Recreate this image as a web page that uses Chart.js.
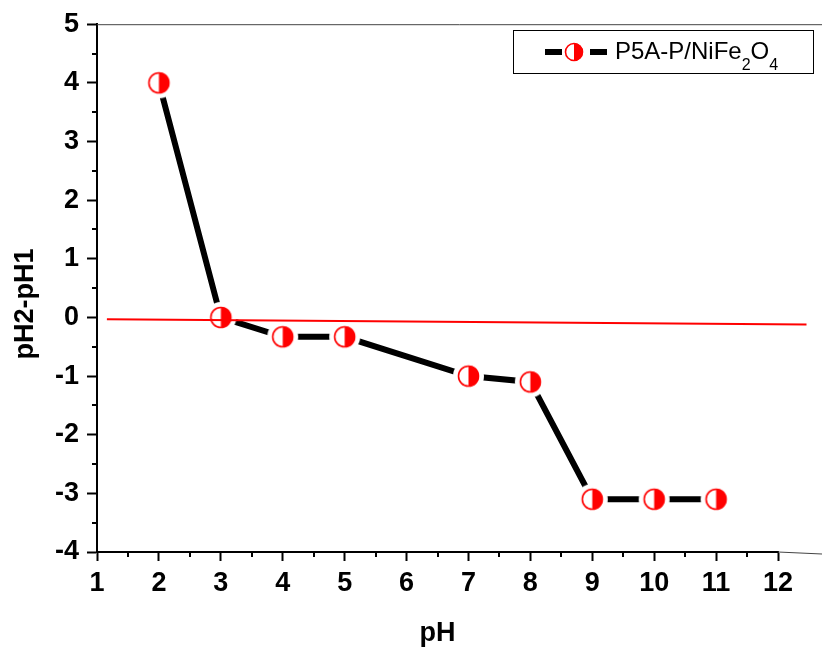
<!DOCTYPE html>
<html>
<head>
<meta charset="utf-8">
<script src="https://cdn.jsdelivr.net/npm/chart.js@4.4.1/dist/chart.umd.min.js"></script>
<style>
    html, body { margin: 0; padding: 0; background: #fff; }
    #wrap { width: 822px; height: 651px; }
</style>
</head>
<body>
<div id="wrap"><canvas id="phchart" width="822" height="651"></canvas></div>
<script>
// initial pH and the measured change pH2-pH1
const phValues = [2, 3, 4, 5, 7, 8, 9, 10, 11];
const deltaPH = [4, 0, -0.33, -0.33, -1.0, -1.1, -3.1, -3.1, -3.1];

// the red reference line near zero
const zeroLineX = [1.16, 12.46];
const zeroLineY = [-0.03, -0.12];

const seriesLabel = "P5A-P/NiFe2O4";
const yTitle = "pH2-pH1";
const fontFamily = "'Liberation Sans', Arial, sans-serif";

// half filled circle, with a white ring round it so the line stops short of it
function makeMarker(r, ring) {
    const size = (r + ring) * 2 + 2;
    const c = document.createElement("canvas");
    c.width = size;
    c.height = size;
    const ctx = c.getContext("2d");
    const m = size / 2;
    if (ring > 0) {
        ctx.fillStyle = "#fff";
        ctx.beginPath();
        ctx.arc(m, m, r + ring, 0, Math.PI * 2);
        ctx.fill();
    }
    ctx.fillStyle = "#fff";
    ctx.beginPath();
    ctx.arc(m, m, r, 0, Math.PI * 2);
    ctx.fill();
    ctx.fillStyle = "#ff0000";
    ctx.beginPath();
    ctx.arc(m, m, r, -Math.PI / 2, Math.PI / 2);
    ctx.closePath();
    ctx.fill();
    ctx.strokeStyle = "#ff0000";
    ctx.lineWidth = 1.6;
    ctx.beginPath();
    ctx.arc(m, m, r - 0.5, 0, Math.PI * 2);
    ctx.stroke();
    return c;
}

const marker = makeMarker(10.5, 5);
const legendMarker = makeMarker(9, 0);

// minor ticks, frame bits, y title and the legend box with subscripts
const extrasPlugin = {
    id: "extras",
    afterDraw(chart) {
        const ctx = chart.ctx;
        const xs = chart.scales.x;
        const ys = chart.scales.y;
        const area = chart.chartArea;
        ctx.save();
        ctx.strokeStyle = "#000";
        ctx.lineWidth = 2;
        ctx.beginPath();
        for (let v = xs.min + 0.5; v < xs.max; v += 1) {
            const px = Math.round(xs.getPixelForValue(v));
            ctx.moveTo(px, area.bottom);
            ctx.lineTo(px, area.bottom + 5);
        }
        for (let v = ys.min + 0.5; v < ys.max; v += 1) {
            const py = Math.round(ys.getPixelForValue(v));
            ctx.moveTo(area.left - 5, py);
            ctx.lineTo(area.left, py);
        }
        ctx.stroke();

        // thin top frame and the bottom line running out to the edge
        ctx.strokeStyle = "#444";
        ctx.lineWidth = 1;
        ctx.beginPath();
        ctx.moveTo(area.left, area.top + 0.5);
        ctx.lineTo(chart.width, area.top + 0.5);
        ctx.moveTo(area.right, area.bottom);
        ctx.lineTo(chart.width, area.bottom + 2);
        ctx.stroke();

        // y axis title, sits a little below the middle in the original
        ctx.save();
        ctx.translate(26, 304);
        ctx.rotate(-Math.PI / 2);
        ctx.font = "bold 27px " + fontFamily;
        ctx.fillStyle = "#000";
        ctx.textAlign = "center";
        ctx.textBaseline = "middle";
        ctx.fillText(yTitle, 0, 0);
        ctx.restore();

        // legend
        const bx = 513.5, by = 30.5, bw = 300, bh = 43;
        ctx.lineWidth = 1;
        ctx.strokeStyle = "#000";
        ctx.strokeRect(bx, by, bw, bh);
        const cy = 52;
        ctx.lineWidth = 6;
        ctx.beginPath();
        ctx.moveTo(545, cy);
        ctx.lineTo(562, cy);
        ctx.moveTo(590, cy);
        ctx.lineTo(607, cy);
        ctx.stroke();
        ctx.drawImage(legendMarker, 574 - legendMarker.width / 2, cy - legendMarker.height / 2);

        ctx.fillStyle = "#000";
        ctx.textBaseline = "alphabetic";
        let tx = 615;
        const parts = seriesLabel.match(/[A-Za-z\-\/]+|\d/g);
        // digits after "Fe" and "O" are subscripts
        let seen = "";
        for (const p of parts) {
            const isSub = /^\d$/.test(p) && /[a-zA-Z]$/.test(seen) && seen.indexOf("Ni") >= 0;
            ctx.font = isSub ? "16px " + fontFamily : "24px " + fontFamily;
            ctx.fillText(p, tx, isSub ? 70 : 59);
            tx += ctx.measureText(p).width;
            seen += p;
        }
        ctx.restore();
    },
};

const tickFont = { family: fontFamily, size: 27, weight: "bold" };

new Chart(document.getElementById("phchart"), {
    type: "line",
    data: {
        datasets: [
            {
                label: "zero line",
                data: zeroLineX.map((x, i) => ({ x: x, y: zeroLineY[i] })),
                borderColor: "#ff0000",
                borderWidth: 2,
                pointRadius: 0,
                clip: false,
                order: 0,
            },
            {
                label: seriesLabel,
                data: phValues.map((x, i) => ({ x: x, y: deltaPH[i] })),
                borderColor: "#000",
                borderWidth: 6,
                pointStyle: marker,
                pointRadius: 16,
                order: 1,
            },
        ],
    },
    options: {
        responsive: false,
        devicePixelRatio: 1,
        animation: false,
        layout: { padding: { top: 24, right: 44, left: 0, bottom: 0 } },
        plugins: {
            legend: { display: false },
            tooltip: { enabled: false },
        },
        scales: {
            x: {
                type: "linear",
                min: 1,
                max: 12,
                afterFit: (scale) => { scale.height = 99; },
                ticks: { stepSize: 1, color: "#000", font: tickFont, padding: 6, maxRotation: 0 },
                grid: { drawOnChartArea: false, tickLength: 9, tickColor: "#000", tickWidth: 2 },
                border: { display: true, color: "#000", width: 2 },
                title: {
                    display: true,
                    text: "pH",
                    color: "#000",
                    font: { family: fontFamily, size: 27, weight: "bold" },
                    padding: { top: 0, bottom: 1 },
                },
            },
            y: {
                min: -4,
                max: 5,
                afterFit: (scale) => { scale.width = 97; },
                ticks: { stepSize: 1, color: "#000", font: tickFont, padding: 8 },
                grid: { drawOnChartArea: false, tickLength: 10, tickColor: "#000", tickWidth: 2 },
                border: { display: true, color: "#000", width: 2 },
            },
        },
    },
    plugins: [extrasPlugin],
});
</script>
</body>
</html>
